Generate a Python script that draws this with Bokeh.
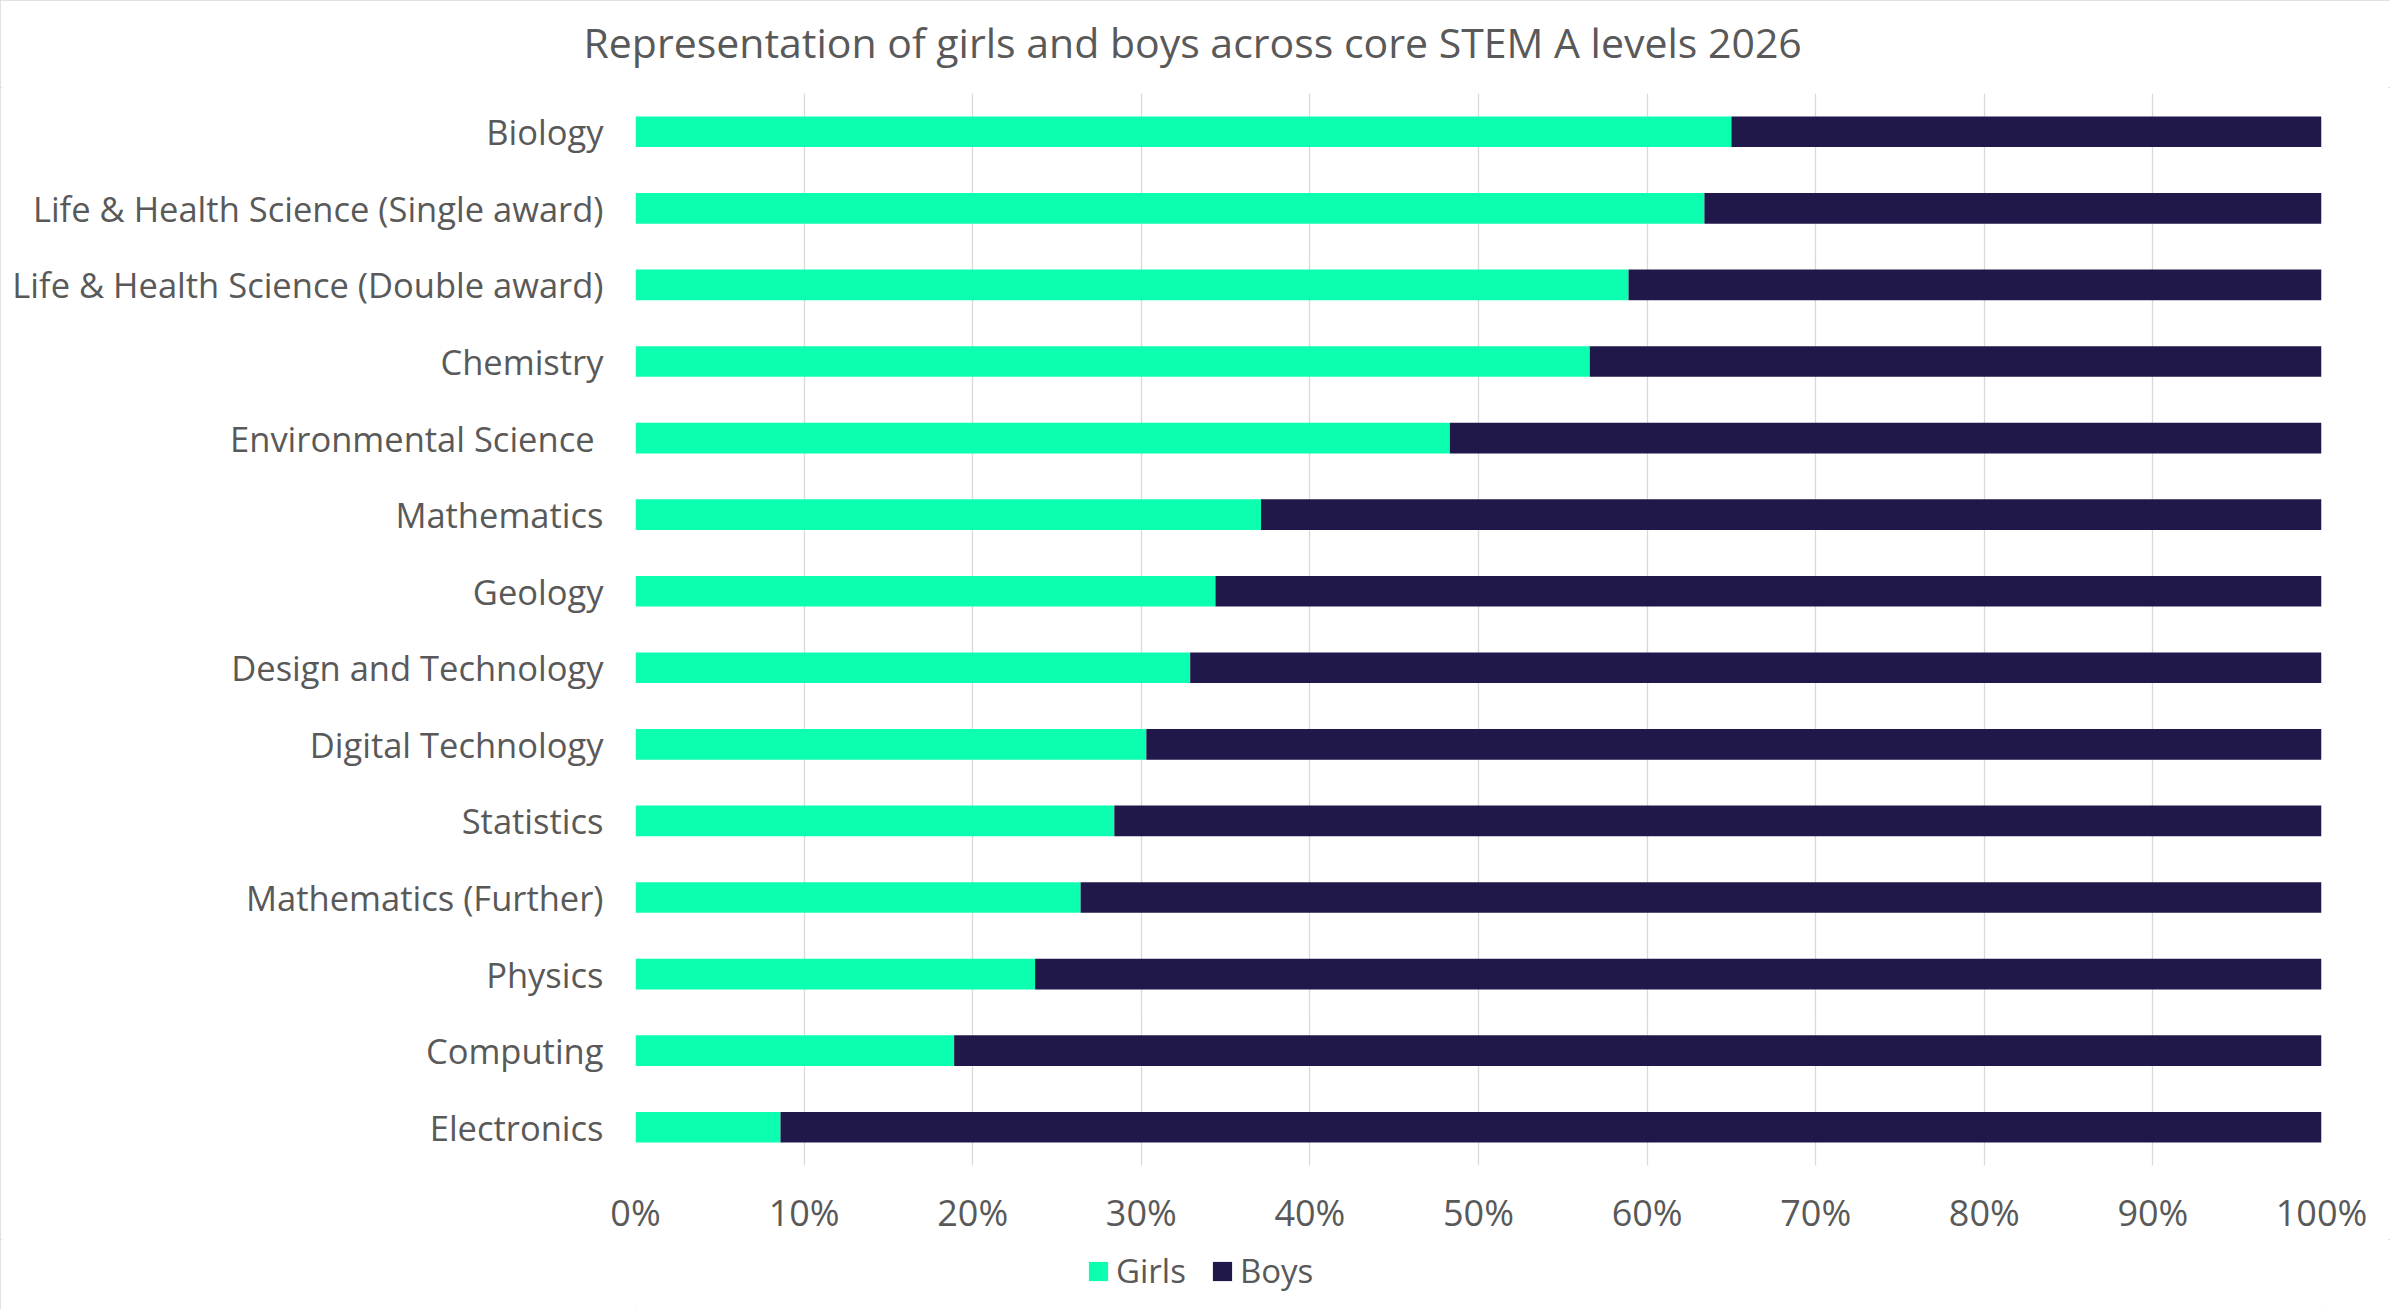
from bokeh.plotting import figure
from bokeh.layouts import column
from bokeh.models import (Range1d, FactorRange, FixedTicker, PrintfTickFormatter,
                          Title, Legend, LegendItem, ColumnDataSource)
from bokeh.embed import file_html
from bokeh.resources import INLINE

subjects = ["Biology", "Life & Health Science (Single award)",
            "Life & Health Science (Double award)", "Chemistry",
            "Environmental Science ", "Mathematics", "Geology",
            "Design and Technology", "Digital Technology", "Statistics",
            "Mathematics (Further)", "Physics", "Computing", "Electronics"]
girls = [65.0, 63.4, 58.9, 56.6, 48.3, 37.1, 34.4, 32.9, 30.3, 28.4, 26.4, 23.7, 18.9, 8.6]
boys = [35.0, 36.6, 41.1, 43.4, 51.7, 62.9, 65.6, 67.1, 69.7, 71.6, 73.6, 76.3, 81.1, 91.4]
series = ["Girls", "Boys"]
x_ticks = [0, 10, 20, 30, 40, 50, 60, 70, 80, 90, 100]
title_text = "Representation of girls and boys across core STEM A levels 2026"

FONT = "Open Sans"
TXT = "#595959"
COLORS = ["#0CFFB0", "#20184A"]

src = ColumnDataSource(dict(subject=subjects, Girls=girls, Boys=boys))

W = 2390
H_TITLE, H_MAIN, H_LEG = 87, 1152, 70
LEFT, RIGHT = 635, W - 2321


def strip(height, y_range=None):
    f = figure(width=W, height=height, output_backend="svg", toolbar_location=None,
               title=None, x_axis_type=None, y_axis_type=None,
               x_range=Range1d(0, 100), y_range=y_range or Range1d(0, 1),
               min_border_left=LEFT, min_border_right=RIGHT,
               min_border_top=0, min_border_bottom=0)
    f.outline_line_color = None
    f.background_fill_color = "white"
    f.border_fill_color = "white"
    return f


# title strip
t = strip(H_TITLE)
t.add_layout(Title(text=title_text, align="left", offset=-52, standoff=23,
                   text_font=FONT, text_font_size="41px", text_color=TXT,
                   text_font_style="normal"), "above")

# main chart
p = figure(width=W, height=H_MAIN, output_backend="svg", toolbar_location=None,
           title=None,
           x_range=Range1d(0, 100),
           y_range=FactorRange(factors=list(reversed(subjects))),
           min_border_left=LEFT, min_border_right=RIGHT,
           min_border_top=93 - H_TITLE, min_border_bottom=H_MAIN - (1167 - H_TITLE))
p.outline_line_color = None
p.background_fill_color = "white"
p.border_fill_color = "white"

p.hbar_stack(series, y="subject", height=0.4, color=COLORS, source=src, line_width=0)

p.ygrid.grid_line_color = None
p.xgrid.grid_line_color = "#D9D9D9"
p.xgrid.grid_line_width = 1.3
p.xaxis.ticker = FixedTicker(ticks=x_ticks)
p.xaxis.formatter = PrintfTickFormatter(format="%d%%")

for ax in (p.xaxis, p.yaxis):
    ax.axis_line_color = None
    ax.major_tick_line_color = None
    ax.minor_tick_line_color = None
    ax.major_tick_out = 0
    ax.major_tick_in = 0
    ax.major_label_text_font = FONT
    ax.major_label_text_color = TXT
p.xaxis.major_label_text_font_size = "36px"
p.yaxis.major_label_text_font_size = "34.5px"
p.yaxis.major_label_standoff = 32
p.xaxis.major_label_standoff = 22

# legend strip underneath: its y range holds only the series names, so the
# subject bars are not drawn there and only the legend shows
q = strip(H_LEG, y_range=FactorRange(factors=series))
leg_r = q.hbar_stack(series, y="subject", height=0.4, color=COLORS, source=src, line_width=0)

legend = Legend(items=[LegendItem(label=s, renderers=[r]) for s, r in zip(series, leg_r)],
                orientation="horizontal", location=(1086 - LEFT, 16),
                glyph_width=24, glyph_height=24, label_standoff=6, spacing=24,
                padding=0, margin=0, border_line_color=None,
                background_fill_alpha=0,
                label_text_font=FONT, label_text_font_size="33px",
                label_text_color=TXT)
q.add_layout(legend, "center")

layout = column(t, p, q, spacing=0,
                styles={"outline": "2px solid #D9D9D9", "outline-offset": "-2px"})
open("out.html", "w").write(file_html(layout, INLINE))
